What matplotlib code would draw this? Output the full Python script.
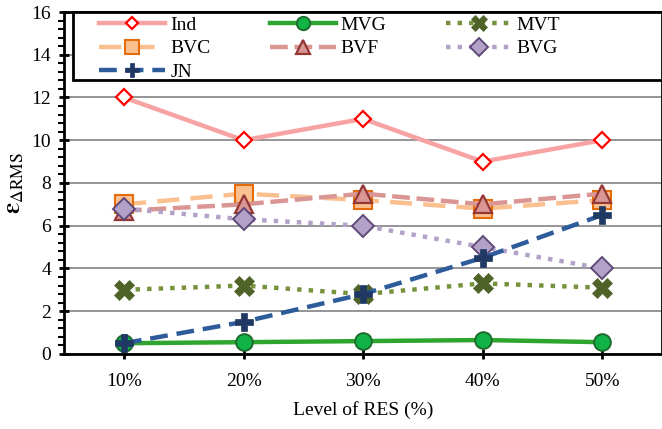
import numpy as np
import matplotlib
matplotlib.use("Agg")
import matplotlib.pyplot as plt
from matplotlib.ticker import MultipleLocator
from matplotlib.patches import Rectangle

plt.rcParams['font.family'] = ['Liberation Serif', 'DejaVu Serif']
plt.rcParams['mathtext.fontset'] = 'stix'

levels = ['10%', '20%', '30%', '40%', '50%']

ind = [12, 10, 11, 9, 10]
mvg = [0.5, 0.55, 0.6, 0.65, 0.55]
mvt = [3.0, 3.2, 2.8, 3.3, 3.1]
bvc = [7.0, 7.5, 7.2, 6.8, 7.2]
bvf = [6.7, 7.0, 7.5, 7.0, 7.5]
bvg = [6.8, 6.3, 6.0, 5.0, 4.0]
jn = [0.5, 1.5, 2.8, 4.5, 6.5]

fig = plt.figure(figsize=(6.62, 4.29), dpi=100)
ax = fig.add_axes([0.097, 0.175, 0.903, 0.797])
x = np.arange(len(levels))

lw = 3.2
h_ind, = ax.plot(x, ind, color='#F7A3A3', lw=lw, marker='D', ms=8,
                 mfc='white', mec='#FF0000', mew=1.6, label='Ind')
h_mvg, = ax.plot(x, mvg, color='#2EA52E', lw=lw, marker='o', ms=12,
                 mfc='#11B347', mec='#1E6B2E', mew=1.4, label='MVG')
h_mvt, = ax.plot(x, mvt, color='#76923C', lw=lw, ls=(0, (1, 1.6)), marker='X', ms=14,
                 mfc='#4F6228', mec='#4F6228', mew=0.5, label='MVT')
h_bvc, = ax.plot(x, bvc, color='#FAC090', lw=lw, ls=(0, (5, 2.5)), marker='s', ms=13,
                 mfc='#FAC090', mec='#E46C0A', mew=1.5, label='BVC')
h_bvf, = ax.plot(x, bvf, color='#D99694', lw=lw, ls=(0, (4, 1.5)), marker='^', ms=13,
                 mfc='#D99694', mec='#953735', mew=1.6, label='BVF')
h_bvg, = ax.plot(x, bvg, color='#B3A2C7', lw=lw, ls=(0, (1, 1.6)), marker='D', ms=11,
                 mfc='#B3A2C7', mec='#5F497A', mew=1.4, label='BVG')
h_jn, = ax.plot(x, jn, color='#2E5C9A', lw=lw, ls=(0, (4, 2)), marker='P', ms=13,
                mfc='#1F3864', mec='#1F3864', mew=0.5, label='JN')

ax.set_xlim(-0.5, 4.5)
ax.set_ylim(0, 16)
ax.set_xticks(x)
ax.set_xticklabels(levels)
ax.yaxis.set_major_locator(MultipleLocator(2))
ax.yaxis.set_minor_locator(MultipleLocator(0.4))
ax.grid(axis='y', which='major', color='#8C8C8C', lw=1.3)
ax.set_axisbelow(True)
ax.tick_params(axis='both', labelsize=14, width=2, length=7, direction='inout')
ax.tick_params(axis='x', pad=10)
ax.tick_params(axis='y', pad=6)
ax.tick_params(axis='y', which='minor', width=1.5, length=4, direction='out')
for s in ax.spines.values():
    s.set_linewidth(2)

ax.set_xlabel('Level of RES (%)', fontsize=14, labelpad=8)
ax.set_ylabel(r'$\mathbf{\varepsilon}_{\Delta \mathrm{RMS}}$', fontsize=18, labelpad=4)

# legend frame drawn separately so the entries can sit to the left
frame = Rectangle((0.014, 0.80), 0.986, 0.20, transform=ax.transAxes,
                  facecolor='white', edgecolor='black', lw=2, zorder=4, clip_on=False)
ax.add_patch(frame)

handles = [h_ind, h_bvc, h_jn, h_mvg, h_bvf, h_mvt, h_bvg]
leg = ax.legend(handles=handles, ncol=3, loc='upper left',
                bbox_to_anchor=(0.052, 1.0), frameon=False,
                fontsize=14, handlelength=3.4, handletextpad=0.25,
                columnspacing=3.05, labelspacing=0.32, borderpad=0.2,
                borderaxespad=0, markerscale=0.8)
leg.set_zorder(5)

fig.savefig('out.png', dpi=100)
